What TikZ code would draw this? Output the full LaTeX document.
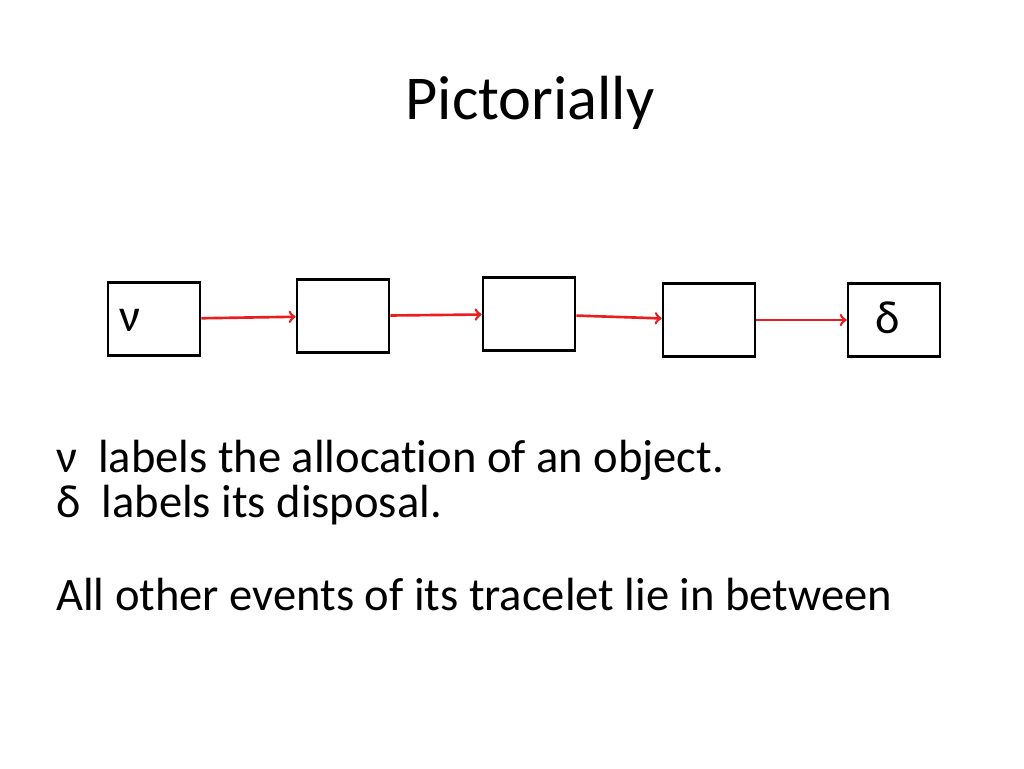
\documentclass[tikz,border=0pt]{standalone}
\usepackage{fontspec}
\setmainfont[Ligatures=NoCommon]{Carlito}
\usetikzlibrary{arrows}
\definecolor{red1}{RGB}{235, 30, 30}
\tikzset{
  evbox/.style={draw, line width=1.5pt, minimum width=1.84cm, minimum height=1.46cm, inner sep=0pt},
  evarrow/.style={red1, line width=1.5pt, ->},
  txt/.style={anchor=west, font=\fontsize{26.5}{30}\selectfont, inner sep=0pt}
}
\begin{document}
\begin{tikzpicture}[x=0.02cm, y=-0.02cm]
  \useasboundingbox (0,0) rectangle (1024,768);
  \node[font=\fontsize{35.5}{40}\selectfont] (title) at (530,103) {Pictorially};
  \node[evbox] (b1) at (154,319) {};
  \node[evbox] (b2) at (343,316) {};
  \node[evbox] (b3) at (529,314) {};
  \node[evbox] (b4) at (709,320) {};
  \node[evbox] (b5) at (894,320) {};
  \node[font=\fontsize{26.5}{30}\selectfont] (nu) at (130,320) {ν};
  \node[font=\fontsize{26.5}{30}\selectfont] (delta) at (888,318) {δ};
  \foreach \from/\to in {b1/b2, b2/b3, b3/b4, b4/b5}
    \draw[evarrow] (\from) -- (\to);
  \node[txt] (line1) at (56,460) {ν\hspace{0.45em}labels the allocation of an object.};
  \node[txt] (line2) at (56,505) {δ\hspace{0.45em}labels its disposal.};
  \node[txt] (line3) at (56,594) {All other events of its tracelet lie in between};
\end{tikzpicture}
\end{document}
